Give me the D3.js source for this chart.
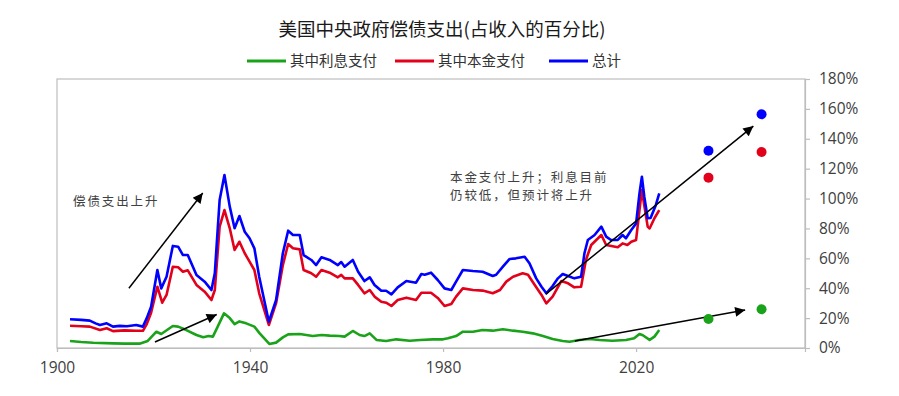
<!DOCTYPE html>
<html>
<head>
<meta charset="utf-8">
<script src="https://cdn.jsdelivr.net/npm/d3@7"></script>
<style>
  body { margin: 0; background: #fff; }
  svg { display: block; }
</style>
</head>
<body>
<div id="chart"></div>
<script>
// data: [year, % of revenue]
const interestPts = [[1902.7,4.7],[1905,4],[1907.5,3.5],[1911.6,3.1],[1914,2.9],[1917.1,2.9],[1918.8,4.7],[1920.6,10.9],[1921.6,9.4],[1924,14.7],[1925.1,14.3],[1926.8,12],[1928.9,8.7],[1930.3,7.2],[1931.4,8],[1932.3,7.6],[1933.3,14.3],[1934.6,23.2],[1935.8,20],[1936.8,16],[1937.8,17.8],[1939.2,16.5],[1940.9,14.3],[1942,9.8],[1944,2.7],[1945.4,3.6],[1946.8,7.1],[1947.9,9.1],[1950.3,9.4],[1953,8],[1954.8,8.7],[1956.5,8.3],[1958.5,8],[1959.6,7.6],[1961.3,11.4],[1962.7,8.7],[1963.7,8],[1964.8,9.8],[1966.2,5.4],[1968.2,4.7],[1970.3,5.8],[1973.1,4.9],[1975.2,5.4],[1977.9,5.8],[1980,5.8],[1981,6.5],[1982.7,8],[1984.1,10.9],[1986.2,10.9],[1988.2,12],[1990.3,11.6],[1992.4,12.5],[1994.5,11.6],[1996.5,10.9],[1998.6,9.8],[2000.7,8],[2002.7,6],[2004.8,4.7],[2006.2,4.2],[2008.3,5.4],[2010.4,6],[2012.4,5.4],[2015.1,4.9],[2017.9,5.4],[2019.6,6.5],[2020.7,9.4],[2021.4,8.5],[2022.8,5.4],[2023.8,7.6],[2024.8,12]];

const principalPts = [[1902.7,14.9],[1905,14.6],[1906.8,14.3],[1908.9,12],[1910.3,13.2],[1911.6,11.3],[1914,11.8],[1916.4,11.5],[1917.8,11.5],[1918.6,16],[1919.5,23.6],[1920.8,41],[1921.8,30.3],[1922.7,35.5],[1924,54.4],[1925.1,54],[1926.1,51],[1927.1,52],[1928.9,42.2],[1930.6,37.7],[1932,32.1],[1932.7,38.8],[1933.7,81.2],[1934.7,92.3],[1935.8,80.1],[1936.8,65.6],[1937.8,71.1],[1938.9,63.4],[1939.9,57.8],[1940.9,52.2],[1941.9,36.6],[1943.9,15.4],[1945.4,30],[1946.8,55.5],[1947.9,69.6],[1948.9,66.7],[1950.3,66],[1951.1,52.2],[1952.7,50],[1953.7,47.7],[1954.8,52.2],[1956.5,50.4],[1958.2,47.3],[1958.9,48.9],[1959.6,46.6],[1961.3,46.6],[1962.4,42.2],[1963.7,36.6],[1964.8,38.8],[1965.8,34.4],[1967.2,31],[1968.2,30.3],[1969.3,28.1],[1970.6,32.1],[1972.4,33.7],[1974.4,32.1],[1975.5,37],[1977.5,37],[1978.9,33.5],[1980.3,28.1],[1981.7,29.4],[1982.7,34.4],[1984.1,39.9],[1986.2,38.8],[1988.2,38.4],[1990.3,36.6],[1991.8,38.8],[1993.1,44.4],[1994.5,47.7],[1996.5,50],[1997.6,49],[1999,42.2],[2000.4,35.5],[2001.4,29.9],[2002.7,34.4],[2004.5,44.8],[2005.9,43.3],[2007.2,40.6],[2008.6,41],[2009.6,58.9],[2010.7,68.9],[2012.8,75.6],[2013.8,68.9],[2016.2,67.4],[2017.2,70],[2018.2,68.9],[2019,71.1],[2020,72.3],[2020.7,92.3],[2021.2,105.7],[2021.7,95.4],[2022.4,81.2],[2022.8,80],[2023.8,86.8],[2024.8,92.3]];

const totalPts = [[1902.7,19.2],[1905,18.8],[1906.8,18.3],[1908,16.5],[1908.9,15.4],[1910.3,16.5],[1911.6,14.3],[1913,14.8],[1914.5,14.6],[1916.4,15.4],[1917.8,14.3],[1918.6,20],[1919.5,27.6],[1920.8,52.2],[1921.6,39.9],[1922.7,47.7],[1924,68.3],[1925.1,67.8],[1926.1,62.2],[1927.1,62.2],[1928.9,48.8],[1930.6,44.4],[1932,38.8],[1932.7,50],[1933.7,99],[1934.7,115.8],[1935.8,94.6],[1936.8,80.1],[1937.8,88.3],[1938.9,77.8],[1939.9,73.4],[1940.9,66.7],[1941.9,47.7],[1943.9,17.6],[1945.4,32.1],[1946.8,63.4],[1947.9,78.5],[1948.9,75.6],[1950.3,75.6],[1951.1,62.2],[1952.7,58.9],[1953.7,55.5],[1954.8,60.7],[1956.5,58.9],[1958.2,55.5],[1958.9,57.5],[1959.6,54.4],[1961.3,58.9],[1962.4,51],[1963.7,44.8],[1964.8,47.3],[1965.8,42.2],[1967.2,38.3],[1968.2,38.3],[1969.3,35.9],[1970.6,40.6],[1972.4,44.8],[1974.4,43.7],[1975.5,49.5],[1976.2,49],[1977.5,50.4],[1978.9,45.5],[1980.3,39.9],[1981.7,38.8],[1982.7,44.4],[1984.1,52.2],[1986.2,51.5],[1988.2,51],[1990.3,48.2],[1991,49],[1992.4,54.4],[1993.8,59.6],[1995.1,60],[1996.9,61.1],[1997.9,56.7],[1999.3,46.6],[2000.4,41],[2001.4,36.6],[2002.7,41.5],[2003.8,46.6],[2004.8,49.5],[2005.9,48.2],[2007.2,46.6],[2008.6,47.7],[2009.3,63.4],[2010,72.3],[2011.4,75.6],[2012.8,81.2],[2013.8,74.5],[2014.8,72.3],[2016.2,72.3],[2017.2,75.6],[2017.9,73.4],[2019,79],[2020,83.4],[2020.7,103.5],[2021.2,114.6],[2021.7,101.2],[2022.4,86.8],[2023,87],[2024.1,95.7],[2024.8,103.5]];

// projection dots
const projYears = [2035, 2046];
const projInterest = [19.4, 25.9];
const projPrincipal = [114, 131.2];
const projTotal = [132, 156.4];

const seriesNames = ['其中利息支付', '其中本金支付', '总计'];
const seriesColors = ['#1aa31a', '#e3001b', '#0000ff'];
const xTicks = [1900, 1940, 1980, 2020];
const yTicks = [0, 20, 40, 60, 80, 100, 120, 140, 160, 180];

// arrows in data units: [x1, y1, x2, y2]
const arrows = [
  [1914.9, 40, 1930.2, 103.7],
  [1920.3, 4, 1933.1, 22.4],
  [2001.3, 36, 2044.3, 148.5],
  [2007.3, 4.7, 2042.6, 25.4]
];

const width = 899, height = 396;
const plotL = 57, plotR = 805, plotT = 79, plotB = 348;

const svg = d3.select('#chart').append('svg')
    .attr('width', width)
    .attr('height', height);

const x = d3.scaleLinear().domain([1900, 2055]).range([plotL, plotR]);
const y = d3.scaleLinear().domain([0, 180]).range([plotB, plotT]);

// frame
svg.append('rect')
    .attr('x', plotL).attr('y', plotT)
    .attr('width', plotR - plotL).attr('height', plotB - plotT)
    .attr('fill', 'none').attr('stroke', '#bdbdbd').attr('stroke-width', 1.2);

const xAxis = svg.append('g')
    .attr('transform', `translate(0,${plotB})`)
    .call(d3.axisBottom(x).tickValues(xTicks).tickFormat(d3.format('d')).tickSize(4).tickPadding(10));

const yAxis = svg.append('g')
    .attr('transform', `translate(${plotR},0)`)
    .call(d3.axisRight(y).tickValues(yTicks).tickFormat(d => d + '%').tickSize(5).tickPadding(9));

[xAxis, yAxis].forEach(g => {
  g.select('.domain').attr('stroke', '#bdbdbd').attr('stroke-width', 1.2);
  g.selectAll('.tick line').attr('stroke', '#bdbdbd').attr('stroke-width', 1.2);
  g.selectAll('.tick text')
      .attr('fill', '#404040')
      .style('font-family', '"Open Sans", sans-serif')
      .style('font-size', '15.5px');
});

// lines
const line = d3.line().x(d => x(d[0])).y(d => y(d[1]));
[interestPts, principalPts, totalPts].forEach((pts, i) => {
  svg.append('path')
      .datum(pts)
      .attr('d', line)
      .attr('fill', 'none')
      .attr('stroke', seriesColors[i])
      .attr('stroke-width', 2.6)
      .attr('stroke-linejoin', 'round');
});

// arrows
svg.append('defs').append('marker')
    .attr('id', 'head')
    .attr('viewBox', '0 0 10 10')
    .attr('refX', 10).attr('refY', 5)
    .attr('markerUnits', 'userSpaceOnUse')
    .attr('markerWidth', 12).attr('markerHeight', 10)
    .attr('orient', 'auto')
  .append('path')
    .attr('d', 'M0,0L10,5L0,10z')
    .attr('fill', '#000');

svg.selectAll('.arrow')
    .data(arrows)
    .enter().append('line')
    .attr('class', 'arrow')
    .attr('x1', d => x(d[0])).attr('y1', d => y(d[1]))
    .attr('x2', d => x(d[2])).attr('y2', d => y(d[3]))
    .attr('stroke', '#000')
    .attr('stroke-width', 1.5)
    .attr('marker-end', 'url(#head)');

// projection dots
[projInterest, projPrincipal, projTotal].forEach((vals, i) => {
  svg.selectAll(null)
      .data(vals)
      .enter().append('circle')
      .attr('cx', (d, j) => x(projYears[j]))
      .attr('cy', d => y(d))
      .attr('r', 5)
      .attr('fill', seriesColors[i]);
});

const cjk = '"Noto Sans CJK SC", sans-serif';

// title
svg.append('text')
    .attr('x', 442).attr('y', 36)
    .attr('text-anchor', 'middle')
    .style('font-family', cjk)
    .style('font-size', '18.5px')
    .attr('fill', '#1a1a1a')
    .text('美国中央政府偿债支出(占收入的百分比)');

// legend
const legendX = [247, 395, 549];
const legend = svg.selectAll('.legend')
    .data(seriesNames)
    .enter().append('g')
    .attr('class', 'legend')
    .attr('transform', (d, i) => `translate(${legendX[i]},61)`);

legend.append('line')
    .attr('x1', 0).attr('x2', 39)
    .attr('stroke', (d, i) => seriesColors[i])
    .attr('stroke-width', 2.8);

legend.append('text')
    .attr('x', 43).attr('y', 5)
    .style('font-family', cjk)
    .style('font-size', '14.5px')
    .attr('fill', '#333')
    .text(d => d);

// annotations
const note = svg.append('g')
    .style('font-family', cjk)
    .style('font-size', '12.5px')
    .style('letter-spacing', '1.9px')
    .attr('fill', '#404040');

note.append('text').attr('x', 73).attr('y', 205.5).text('偿债支出上升');

const note2 = note.append('text').attr('x', 450).attr('y', 181.5);
note2.append('tspan').attr('x', 450).text('本金支付上升；利息目前');
note2.append('tspan').attr('x', 450).attr('dy', 18.2).text('仍较低，但预计将上升');
</script>
</body>
</html>
